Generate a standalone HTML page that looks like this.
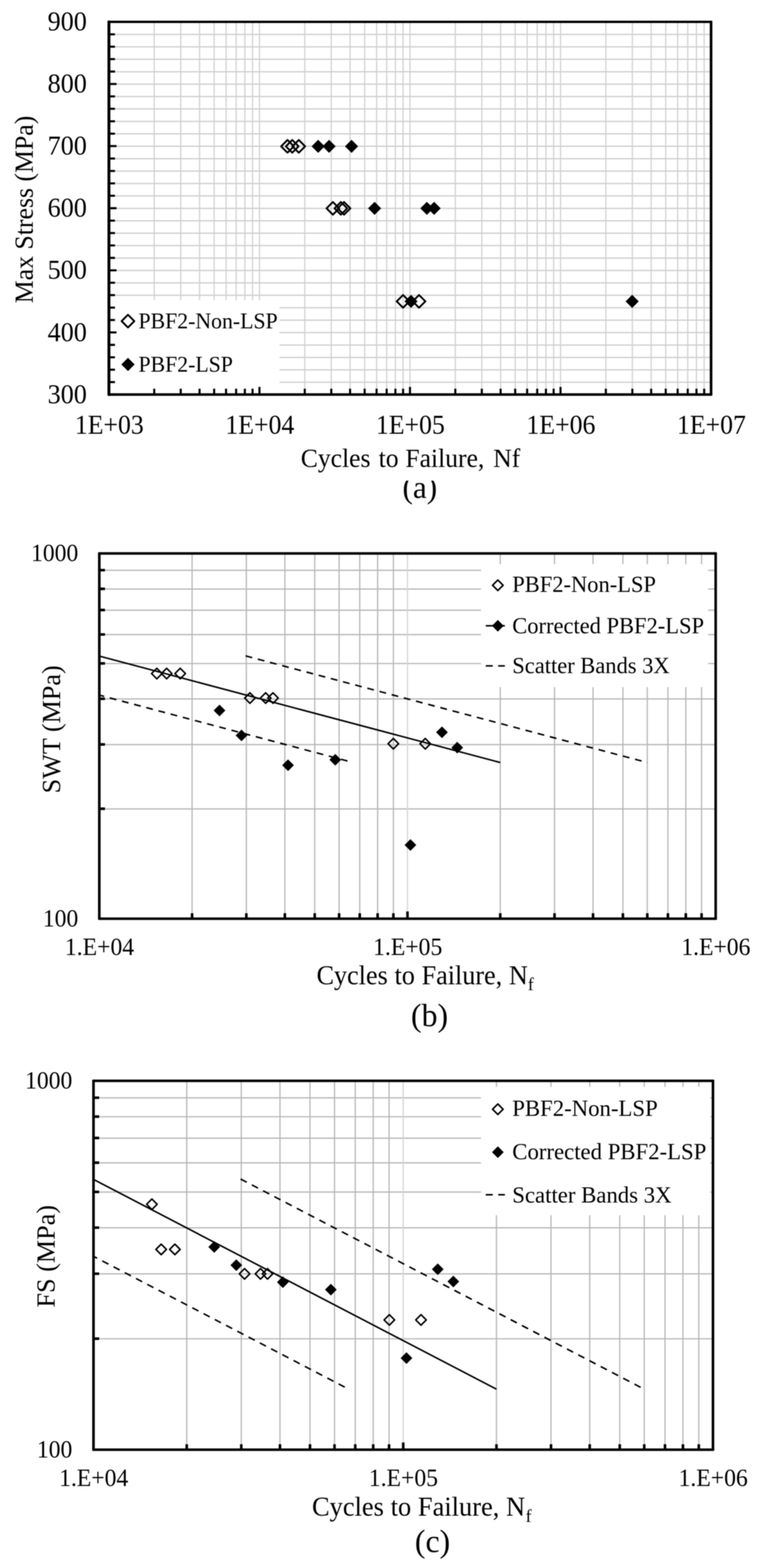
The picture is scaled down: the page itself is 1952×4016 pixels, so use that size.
<!DOCTYPE html>
<html lang="en">
<head>
<meta charset="utf-8">
<title>Fatigue life: S-N, SWT and FS plots</title>
<style>
html,body{margin:0;padding:0;background:#fff;}
body{width:1952px;height:4016px;overflow:hidden;}
svg{display:block;font-family:'Liberation Serif', serif;fill:#000;filter:blur(0.8px);}
</style>
</head>
<body>
<svg width="1952" height="4016" viewBox="0 0 1952 4016" role="img" aria-label="Fatigue life plots (a) S-N, (b) SWT, (c) FS">
<rect width="1952" height="4016" fill="#fff"/>
<g id="chart-a">
<path d="M279.0 88.22H1821.5M279.0 120.03H1821.5M279.0 151.85H1821.5M279.0 183.67H1821.5M279.0 215.48H1821.5M279.0 247.30H1821.5M279.0 279.12H1821.5M279.0 310.93H1821.5M279.0 342.75H1821.5M279.0 374.57H1821.5M279.0 406.38H1821.5M279.0 438.20H1821.5M279.0 470.02H1821.5M279.0 501.83H1821.5M279.0 533.65H1821.5M279.0 565.47H1821.5M279.0 597.28H1821.5M279.0 629.10H1821.5M279.0 660.92H1821.5M279.0 692.73H1821.5M279.0 724.55H1821.5M279.0 756.37H1821.5M279.0 788.18H1821.5M279.0 820.00H1821.5M279.0 851.82H1821.5M279.0 883.63H1821.5M279.0 915.45H1821.5M279.0 947.27H1821.5M279.0 979.08H1821.5" stroke="#cbcbcb" stroke-width="3" fill="none"/>
<path d="M395.08 56.0V1010.5M462.99 56.0V1010.5M511.17 56.0V1010.5M548.54 56.0V1010.5M579.07 56.0V1010.5M604.89 56.0V1010.5M627.25 56.0V1010.5M646.98 56.0V1010.5M664.62 56.0V1010.5M780.71 56.0V1010.5M848.61 56.0V1010.5M896.79 56.0V1010.5M934.17 56.0V1010.5M964.70 56.0V1010.5M990.52 56.0V1010.5M1012.88 56.0V1010.5M1032.60 56.0V1010.5M1050.25 56.0V1010.5M1166.33 56.0V1010.5M1234.24 56.0V1010.5M1282.42 56.0V1010.5M1319.79 56.0V1010.5M1350.32 56.0V1010.5M1376.14 56.0V1010.5M1398.50 56.0V1010.5M1418.23 56.0V1010.5M1435.88 56.0V1010.5M1551.96 56.0V1010.5M1619.86 56.0V1010.5M1668.04 56.0V1010.5M1705.42 56.0V1010.5M1735.95 56.0V1010.5M1761.77 56.0V1010.5M1784.13 56.0V1010.5M1803.85 56.0V1010.5" stroke="#d0d0d0" stroke-width="3" fill="none"/>
<rect x="279.0" y="769" width="437.0" height="241.5" fill="#fff"/>
<path d="M279.0 56.00h19.5M279.0 87.82h15.5M279.0 119.63h15.5M279.0 151.45h15.5M279.0 183.27h15.5M279.0 215.08h19.5M279.0 246.90h15.5M279.0 278.72h15.5M279.0 310.53h15.5M279.0 342.35h15.5M279.0 374.17h19.5M279.0 405.98h15.5M279.0 437.80h15.5M279.0 469.62h15.5M279.0 501.43h15.5M279.0 533.25h19.5M279.0 565.07h15.5M279.0 596.88h15.5M279.0 628.70h15.5M279.0 660.52h15.5M279.0 692.33h19.5M279.0 724.15h15.5M279.0 755.97h15.5M279.0 787.78h15.5M279.0 819.60h15.5M279.0 851.42h19.5M279.0 883.23h15.5M279.0 915.05h15.5M279.0 946.87h15.5M279.0 978.68h15.5M279.0 1010.50h19.5M279.00 1010.5v-19.5M395.08 1010.5v-15M462.99 1010.5v-15M511.17 1010.5v-15M548.54 1010.5v-15M579.07 1010.5v-15M604.89 1010.5v-15M627.25 1010.5v-15M646.98 1010.5v-15M664.62 1010.5v-19.5M780.71 1010.5v-15M848.61 1010.5v-15M896.79 1010.5v-15M934.17 1010.5v-15M964.70 1010.5v-15M990.52 1010.5v-15M1012.88 1010.5v-15M1032.60 1010.5v-15M1050.25 1010.5v-19.5M1166.33 1010.5v-15M1234.24 1010.5v-15M1282.42 1010.5v-15M1319.79 1010.5v-15M1350.32 1010.5v-15M1376.14 1010.5v-15M1398.50 1010.5v-15M1418.23 1010.5v-15M1435.88 1010.5v-19.5M1551.96 1010.5v-15M1619.86 1010.5v-15M1668.04 1010.5v-15M1705.42 1010.5v-15M1735.95 1010.5v-15M1761.77 1010.5v-15M1784.13 1010.5v-15M1803.85 1010.5v-15" stroke="#000" stroke-width="5.3" fill="none"/>
<g stroke="#000" fill="none" stroke-linecap="round"><line x1="279.0" y1="56.0" x2="279.0" y2="1010.5" stroke-width="7.4"/><line x1="279.0" y1="56.0" x2="1821.5" y2="56.0" stroke-width="6.2"/><line x1="1821.5" y1="56.0" x2="1821.5" y2="1010.5" stroke-width="6.7"/><line x1="279.0" y1="1010.5" x2="1821.5" y2="1010.5" stroke-width="6.7"/></g>
<polygon points="815.0,358.5 831.3,374.8 815.0,391.1 798.7,374.8" fill="#000" stroke="#000" stroke-width="1" stroke-linejoin="round"/>
<polygon points="843.0,358.5 859.3,374.8 843.0,391.1 826.7,374.8" fill="#000" stroke="#000" stroke-width="1" stroke-linejoin="round"/>
<polygon points="900.6,358.5 916.9,374.8 900.6,391.1 884.3,374.8" fill="#000" stroke="#000" stroke-width="1" stroke-linejoin="round"/>
<polygon points="959.6,517.3 975.9,533.6 959.6,549.9 943.3,533.6" fill="#000" stroke="#000" stroke-width="1" stroke-linejoin="round"/>
<polygon points="1093.5,517.3 1109.8,533.6 1093.5,549.9 1077.2,533.6" fill="#000" stroke="#000" stroke-width="1" stroke-linejoin="round"/>
<polygon points="1112.1,517.3 1128.4,533.6 1112.1,549.9 1095.8,533.6" fill="#000" stroke="#000" stroke-width="1" stroke-linejoin="round"/>
<polygon points="1052.9,755.6 1069.2,771.9 1052.9,788.2 1036.6,771.9" fill="#000" stroke="#000" stroke-width="1" stroke-linejoin="round"/>
<polygon points="1619.4,755.6 1635.7,771.9 1619.4,788.2 1603.1,771.9" fill="#000" stroke="#000" stroke-width="1" stroke-linejoin="round"/>
<polygon points="736.4,358.5 752.7,374.8 736.4,391.1 720.1,374.8" fill="none" stroke="#000" stroke-width="4.7" stroke-linejoin="round"/>
<polygon points="748.6,358.5 764.9,374.8 748.6,391.1 732.3,374.8" fill="none" stroke="#000" stroke-width="4.7" stroke-linejoin="round"/>
<polygon points="765.4,358.5 781.7,374.8 765.4,391.1 749.1,374.8" fill="none" stroke="#000" stroke-width="4.7" stroke-linejoin="round"/>
<polygon points="852.7,517.3 869.0,533.6 852.7,549.9 836.4,533.6" fill="none" stroke="#000" stroke-width="4.7" stroke-linejoin="round"/>
<polygon points="873.2,517.3 889.5,533.6 873.2,549.9 856.9,533.6" fill="none" stroke="#000" stroke-width="4.7" stroke-linejoin="round"/>
<polygon points="881.3,517.3 897.6,533.6 881.3,549.9 865.0,533.6" fill="none" stroke="#000" stroke-width="4.7" stroke-linejoin="round"/>
<polygon points="1032.5,755.6 1048.8,771.9 1032.5,788.2 1016.2,771.9" fill="none" stroke="#000" stroke-width="4.7" stroke-linejoin="round"/>
<polygon points="1073.4,755.6 1089.7,771.9 1073.4,788.2 1057.1,771.9" fill="none" stroke="#000" stroke-width="4.7" stroke-linejoin="round"/>
<text transform="translate(222.50,78.10) scale(1.0,1.054)" font-size="67" text-anchor="end" >900</text>
<text transform="translate(222.50,237.18) scale(1.0,1.054)" font-size="67" text-anchor="end" >800</text>
<text transform="translate(222.50,396.27) scale(1.0,1.054)" font-size="67" text-anchor="end" >700</text>
<text transform="translate(222.50,555.35) scale(1.0,1.054)" font-size="67" text-anchor="end" >600</text>
<text transform="translate(222.50,714.43) scale(1.0,1.054)" font-size="67" text-anchor="end" >500</text>
<text transform="translate(222.50,873.52) scale(1.0,1.054)" font-size="67" text-anchor="end" >400</text>
<text transform="translate(222.50,1032.60) scale(1.0,1.054)" font-size="67" text-anchor="end" >300</text>
<text transform="translate(280.00,1110.50) scale(1.0,1.045)" font-size="66" text-anchor="middle" >1E+03</text>
<text transform="translate(665.62,1110.50) scale(1.0,1.045)" font-size="66" text-anchor="middle" >1E+04</text>
<text transform="translate(1051.25,1110.50) scale(1.0,1.045)" font-size="66" text-anchor="middle" >1E+05</text>
<text transform="translate(1436.88,1110.50) scale(1.0,1.045)" font-size="66" text-anchor="middle" >1E+06</text>
<text transform="translate(1822.50,1110.50) scale(1.0,1.045)" font-size="66" text-anchor="middle" >1E+07</text>
<text transform="translate(84.00,536.50) rotate(-90) scale(1.0,1.04)" font-size="66" text-anchor="middle" >Max Stress (MPa)</text>
<text transform="translate(0,1196.00) scale(1,1.04)" font-size="65.6" text-anchor="start"><tspan x="770.50">Cycles</tspan> <tspan x="970.00">to</tspan> <tspan x="1038.50">Failure,</tspan> <tspan x="1263.50">Nf</tspan></text>
<clipPath id="capclip"><rect x="1000" y="1231" width="160" height="90"/></clipPath>
<g clip-path="url(#capclip)"><text transform="translate(1075.40,1275.10) scale(1.0,1.0)" font-size="80" text-anchor="middle" >(a)</text></g>
<polygon points="327.8,806.2 344.1,822.5 327.8,838.8 311.5,822.5" fill="none" stroke="#000" stroke-width="4.7" stroke-linejoin="round"/>
<text transform="translate(354.80,841.30) scale(1.0,1.03)" font-size="55.8" text-anchor="start" >PBF2-Non-LSP</text>
<polygon points="327.8,916.9 344.3,933.4 327.8,949.9 311.3,933.4" fill="#000" stroke="#000" stroke-width="1" stroke-linejoin="round"/>
<text transform="translate(354.80,951.80) scale(1.0,1.03)" font-size="55.8" text-anchor="start" >PBF2-LSP</text>
</g>
<g id="chart-b">
<path d="M254.4 2071.79H1833.3M254.4 1907.05H1833.3M254.4 1790.17H1833.3M254.4 1699.51H1833.3M254.4 1625.44H1833.3M254.4 1562.81H1833.3M254.4 1508.56H1833.3M254.4 1460.71H1833.3M492.05 1417.5V2353.0M631.06 1417.5V2353.0M729.70 1417.5V2353.0M806.20 1417.5V2353.0M868.71 1417.5V2353.0M921.56 1417.5V2353.0M967.34 1417.5V2353.0M1007.73 1417.5V2353.0M1281.50 1417.5V2353.0M1420.51 1417.5V2353.0M1519.15 1417.5V2353.0M1595.65 1417.5V2353.0M1658.16 1417.5V2353.0M1711.01 1417.5V2353.0M1756.79 1417.5V2353.0M1797.18 1417.5V2353.0" stroke="#b8b8b8" stroke-width="3.2" fill="none"/>
<path d="M1043.85 1417.5V2353.0" stroke="#d6d6d6" stroke-width="3.2" fill="none"/>
<rect x="1232.2" y="1445" width="582.0" height="315" fill="#fff"/>
<path d="M254.4 2071.39h14.5M254.4 1906.65h14.5M254.4 1789.77h14.5M254.4 1699.11h14.5M254.4 1625.04h14.5M254.4 1562.41h14.5M254.4 1508.16h14.5M254.4 1460.31h14.5M492.05 2353.0v-14M631.06 2353.0v-14M729.70 2353.0v-14M806.20 2353.0v-14M868.71 2353.0v-14M921.56 2353.0v-14M967.34 2353.0v-14M1007.73 2353.0v-14M1281.50 2353.0v-14M1420.51 2353.0v-14M1519.15 2353.0v-14M1595.65 2353.0v-14M1658.16 2353.0v-14M1711.01 2353.0v-14M1756.79 2353.0v-14M1797.18 2353.0v-14M1043.85 2353.0v-18.5" stroke="#000" stroke-width="6.6" fill="none"/>
<g stroke="#000" fill="none" stroke-linecap="round"><line x1="254.4" y1="1417.5" x2="254.4" y2="2353.0" stroke-width="6.7"/><line x1="254.4" y1="1417.5" x2="1833.3" y2="1417.5" stroke-width="6.4"/><line x1="1833.3" y1="1417.5" x2="1833.3" y2="2353.0" stroke-width="6.6"/><line x1="254.4" y1="2353.0" x2="1833.3" y2="2353.0" stroke-width="6.6"/></g>
<line x1="254.40" y1="1680.4" x2="1281.50" y2="1953.0" stroke="#000" stroke-width="4.0"/>
<line x1="629.26" y1="1679.92" x2="1658.16" y2="1953.0" stroke="#000" stroke-width="4" stroke-dasharray="17.4 14.85" stroke-dashoffset="0"/>
<line x1="254.40" y1="1780.37" x2="900.83" y2="1951.94" stroke="#000" stroke-width="4" stroke-dasharray="17.4 14.85" stroke-dashoffset="4.53"/>
<polygon points="562.3,1805.2 576.8,1819.7 562.3,1834.2 547.8,1819.7" fill="#000" stroke="#000" stroke-width="1" stroke-linejoin="round"/>
<polygon points="618.6,1869.1 633.1,1883.6 618.6,1898.1 604.1,1883.6" fill="#000" stroke="#000" stroke-width="1" stroke-linejoin="round"/>
<polygon points="737.9,1945.4 752.4,1959.9 737.9,1974.4 723.4,1959.9" fill="#000" stroke="#000" stroke-width="1" stroke-linejoin="round"/>
<polygon points="858.9,1931.4 873.4,1945.9 858.9,1960.4 844.4,1945.9" fill="#000" stroke="#000" stroke-width="1" stroke-linejoin="round"/>
<polygon points="1132.2,1861.1 1146.7,1875.6 1132.2,1890.1 1117.7,1875.6" fill="#000" stroke="#000" stroke-width="1" stroke-linejoin="round"/>
<polygon points="1171.3,1900.3 1185.8,1914.8 1171.3,1929.3 1156.8,1914.8" fill="#000" stroke="#000" stroke-width="1" stroke-linejoin="round"/>
<polygon points="1051.4,2149.8 1065.9,2164.3 1051.4,2178.8 1036.9,2164.3" fill="#000" stroke="#000" stroke-width="1" stroke-linejoin="round"/>
<polygon points="401.7,1711.6 415.2,1725.1 401.7,1738.6 388.2,1725.1" fill="none" stroke="#000" stroke-width="4" stroke-linejoin="round"/>
<polygon points="426.9,1711.6 440.4,1725.1 426.9,1738.6 413.4,1725.1" fill="none" stroke="#000" stroke-width="4" stroke-linejoin="round"/>
<polygon points="461.6,1711.6 475.1,1725.1 461.6,1738.6 448.1,1725.1" fill="none" stroke="#000" stroke-width="4" stroke-linejoin="round"/>
<polygon points="640.2,1774.3 653.7,1787.8 640.2,1801.3 626.7,1787.8" fill="none" stroke="#000" stroke-width="4" stroke-linejoin="round"/>
<polygon points="680.5,1774.3 694.0,1787.8 680.5,1801.3 667.0,1787.8" fill="none" stroke="#000" stroke-width="4" stroke-linejoin="round"/>
<polygon points="699.3,1774.3 712.8,1787.8 699.3,1801.3 685.8,1787.8" fill="none" stroke="#000" stroke-width="4" stroke-linejoin="round"/>
<polygon points="1007.6,1891.3 1021.1,1904.8 1007.6,1918.3 994.1,1904.8" fill="none" stroke="#000" stroke-width="4" stroke-linejoin="round"/>
<polygon points="1089.4,1891.3 1102.9,1904.8 1089.4,1918.3 1075.9,1904.8" fill="none" stroke="#000" stroke-width="4" stroke-linejoin="round"/>
<text transform="translate(200.50,1437.30) scale(1.0,1.045)" font-size="60.5" text-anchor="end" >1000</text>
<text transform="translate(200.50,2372.80) scale(1.0,1.045)" font-size="60.5" text-anchor="end" >100</text>
<text transform="translate(254.90,2445.80) scale(1.0,1.05)" font-size="60.6" text-anchor="middle" >1.E+04</text>
<text transform="translate(1044.35,2445.80) scale(1.0,1.05)" font-size="60.6" text-anchor="middle" >1.E+05</text>
<text transform="translate(1833.80,2445.80) scale(1.0,1.05)" font-size="60.6" text-anchor="middle" >1.E+06</text>
<text transform="translate(154.30,1868.00) rotate(-90) scale(1.0,1.0)" font-size="67.0" text-anchor="middle" >SWT (MPa)</text>
<text transform="translate(0,2520.7) scale(1,1.04)" font-size="67" text-anchor="start"><tspan x="810.95">Cycles</tspan> <tspan x="1010.75">to</tspan> <tspan x="1079.97">Failure,</tspan> <tspan x="1303.87">N</tspan><tspan x="1352.32" dy="14.71" font-size="44.9">f</tspan></text>
<text transform="translate(1100.30,2627.60) scale(1.0,1.0)" font-size="81.5" text-anchor="middle" >(b)</text>
<polygon points="1275.3,1485.5 1288.8,1499.0 1275.3,1512.5 1261.8,1499.0" fill="none" stroke="#000" stroke-width="4" stroke-linejoin="round"/>
<text transform="translate(1312.30,1516.00) scale(1.0,1.03)" font-size="57.6" text-anchor="start" >PBF2-Non-LSP</text>
<line x1="1244.3" y1="1602.8" x2="1293.3" y2="1602.8" stroke="#000" stroke-width="4"/>
<polygon points="1275.3,1588.3 1289.8,1602.8 1275.3,1617.3 1260.8,1602.8" fill="#000" stroke="#000" stroke-width="1" stroke-linejoin="round"/>
<text transform="translate(1312.30,1621.50) scale(1.0,1.03)" font-size="57.6" text-anchor="start" >Corrected PBF2-LSP</text>
<line x1="1244.3" y1="1705.6" x2="1293.3" y2="1705.6" stroke="#000" stroke-width="4" stroke-dasharray="18 14"/>
<text transform="translate(1312.30,1723.70) scale(1.0,1.03)" font-size="57.6" text-anchor="start" >Scatter Bands 3X</text>
</g>
<g id="chart-c">
<path d="M239.5 3429.02H1826.4M239.5 3262.66H1826.4M239.5 3144.63H1826.4M239.5 3053.08H1826.4M239.5 2978.28H1826.4M239.5 2915.04H1826.4M239.5 2860.25H1826.4M239.5 2811.93H1826.4M478.35 2768.3V3713.0M618.07 2768.3V3713.0M717.20 2768.3V3713.0M794.10 2768.3V3713.0M856.92 2768.3V3713.0M910.04 2768.3V3713.0M956.06 2768.3V3713.0M996.64 2768.3V3713.0M1271.80 2768.3V3713.0M1411.52 2768.3V3713.0M1510.65 2768.3V3713.0M1587.55 2768.3V3713.0M1650.37 2768.3V3713.0M1703.49 2768.3V3713.0M1749.51 2768.3V3713.0M1790.09 2768.3V3713.0" stroke="#b8b8b8" stroke-width="3.2" fill="none"/>
<path d="M1032.95 2768.3V3713.0" stroke="#d6d6d6" stroke-width="3.2" fill="none"/>
<rect x="1232.2" y="2783.5" width="587.3" height="329.0" fill="#fff"/>
<path d="M239.5 3428.62h14.5M239.5 3262.26h14.5M239.5 3144.23h14.5M239.5 3052.68h14.5M239.5 2977.88h14.5M239.5 2914.64h14.5M239.5 2859.85h14.5M239.5 2811.53h14.5M478.35 3713.0v-14M618.07 3713.0v-14M717.20 3713.0v-14M794.10 3713.0v-14M856.92 3713.0v-14M910.04 3713.0v-14M956.06 3713.0v-14M996.64 3713.0v-14M1271.80 3713.0v-14M1411.52 3713.0v-14M1510.65 3713.0v-14M1587.55 3713.0v-14M1650.37 3713.0v-14M1703.49 3713.0v-14M1749.51 3713.0v-14M1790.09 3713.0v-14M1032.95 3713.0v-18.5" stroke="#000" stroke-width="6.6" fill="none"/>
<g stroke="#000" fill="none" stroke-linecap="round"><line x1="239.5" y1="2768.3" x2="239.5" y2="3713.0" stroke-width="6.7"/><line x1="239.5" y1="2768.3" x2="1826.4" y2="2768.3" stroke-width="6.4"/><line x1="1826.4" y1="2768.3" x2="1826.4" y2="3713.0" stroke-width="6.6"/><line x1="239.5" y1="3713.0" x2="1826.4" y2="3713.0" stroke-width="6.6"/></g>
<line x1="239.50" y1="3020.7" x2="1271.80" y2="3558.0" stroke="#000" stroke-width="4.0"/>
<line x1="616.27" y1="3019.76" x2="1650.37" y2="3558.0" stroke="#000" stroke-width="4" stroke-dasharray="17.8 14.7" stroke-dashoffset="0"/>
<line x1="239.50" y1="3217.74" x2="889.23" y2="3555.92" stroke="#000" stroke-width="4" stroke-dasharray="17.8 14.7" stroke-dashoffset="7.2"/>
<polygon points="548.7,3179.2 563.2,3193.7 548.7,3208.2 534.2,3193.7" fill="#000" stroke="#000" stroke-width="1" stroke-linejoin="round"/>
<polygon points="605.4,3225.9 619.9,3240.4 605.4,3254.9 590.9,3240.4" fill="#000" stroke="#000" stroke-width="1" stroke-linejoin="round"/>
<polygon points="724.6,3269.4 739.1,3283.9 724.6,3298.4 710.1,3283.9" fill="#000" stroke="#000" stroke-width="1" stroke-linejoin="round"/>
<polygon points="847.6,3288.6 862.1,3303.1 847.6,3317.6 833.1,3303.1" fill="#000" stroke="#000" stroke-width="1" stroke-linejoin="round"/>
<polygon points="1121.4,3236.3 1135.9,3250.8 1121.4,3265.3 1106.9,3250.8" fill="#000" stroke="#000" stroke-width="1" stroke-linejoin="round"/>
<polygon points="1161.3,3267.8 1175.8,3282.3 1161.3,3296.8 1146.8,3282.3" fill="#000" stroke="#000" stroke-width="1" stroke-linejoin="round"/>
<polygon points="1041.3,3463.9 1055.8,3478.4 1041.3,3492.9 1026.8,3478.4" fill="#000" stroke="#000" stroke-width="1" stroke-linejoin="round"/>
<polygon points="389.1,3070.9 402.6,3084.4 389.1,3097.9 375.6,3084.4" fill="none" stroke="#000" stroke-width="4" stroke-linejoin="round"/>
<polygon points="412.9,3186.5 426.4,3200.0 412.9,3213.5 399.4,3200.0" fill="none" stroke="#000" stroke-width="4" stroke-linejoin="round"/>
<polygon points="448.0,3186.5 461.5,3200.0 448.0,3213.5 434.5,3200.0" fill="none" stroke="#000" stroke-width="4" stroke-linejoin="round"/>
<polygon points="626.5,3249.2 640.0,3262.7 626.5,3276.2 613.0,3262.7" fill="none" stroke="#000" stroke-width="4" stroke-linejoin="round"/>
<polygon points="667.3,3249.2 680.8,3262.7 667.3,3276.2 653.8,3262.7" fill="none" stroke="#000" stroke-width="4" stroke-linejoin="round"/>
<polygon points="685.3,3249.2 698.8,3262.7 685.3,3276.2 671.8,3262.7" fill="none" stroke="#000" stroke-width="4" stroke-linejoin="round"/>
<polygon points="997.4,3367.1 1010.9,3380.6 997.4,3394.1 983.9,3380.6" fill="none" stroke="#000" stroke-width="4" stroke-linejoin="round"/>
<polygon points="1078.5,3367.1 1092.0,3380.6 1078.5,3394.1 1065.0,3380.6" fill="none" stroke="#000" stroke-width="4" stroke-linejoin="round"/>
<text transform="translate(185.20,2788.10) scale(1.0,1.045)" font-size="60.5" text-anchor="end" >1000</text>
<text transform="translate(185.20,3732.80) scale(1.0,1.045)" font-size="60.5" text-anchor="end" >100</text>
<text transform="translate(240.00,3805.80) scale(1.0,1.05)" font-size="60.6" text-anchor="middle" >1.E+04</text>
<text transform="translate(1033.45,3805.80) scale(1.0,1.05)" font-size="60.6" text-anchor="middle" >1.E+05</text>
<text transform="translate(1826.90,3805.80) scale(1.0,1.05)" font-size="60.6" text-anchor="middle" >1.E+06</text>
<text transform="translate(139.60,3217.50) rotate(-90) scale(1.0,1.0)" font-size="67.0" text-anchor="middle" >FS (MPa)</text>
<text transform="translate(0,3881.6) scale(1,1.04)" font-size="67.7" text-anchor="start"><tspan x="799.22">Cycles</tspan> <tspan x="1000.74">to</tspan> <tspan x="1070.55">Failure,</tspan> <tspan x="1296.25">N</tspan><tspan x="1346.60" dy="15.29" font-size="45.4">f</tspan></text>
<text transform="translate(1108.00,3975.00) scale(1.0,1.0)" font-size="81.5" text-anchor="middle" >(c)</text>
<polygon points="1275.3,2827.5 1288.8,2841.0 1275.3,2854.5 1261.8,2841.0" fill="none" stroke="#000" stroke-width="4" stroke-linejoin="round"/>
<text transform="translate(1312.30,2858.00) scale(1.0,1.03)" font-size="58.3" text-anchor="start" >PBF2-Non-LSP</text>
<polygon points="1275.3,2936.5 1289.8,2951.0 1275.3,2965.5 1260.8,2951.0" fill="#000" stroke="#000" stroke-width="1" stroke-linejoin="round"/>
<text transform="translate(1312.30,2968.50) scale(1.0,1.03)" font-size="58.3" text-anchor="start" >Corrected PBF2-LSP</text>
<line x1="1244.3" y1="3060" x2="1293.3" y2="3060" stroke="#000" stroke-width="4" stroke-dasharray="18 14"/>
<text transform="translate(1312.30,3079.50) scale(1.0,1.03)" font-size="58.3" text-anchor="start" >Scatter Bands 3X</text>
</g>
</svg>
</body>
</html>
